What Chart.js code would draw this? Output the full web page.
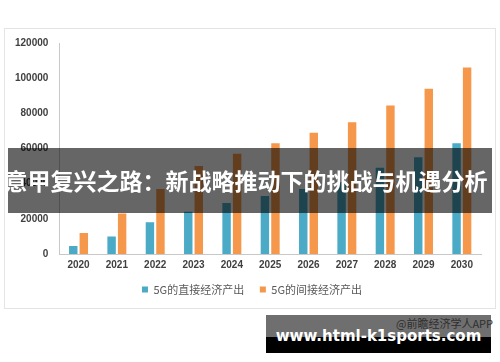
<!DOCTYPE html>
<html>
<head>
<meta charset="utf-8">
<script src="https://cdn.jsdelivr.net/npm/chart.js@4/dist/chart.umd.min.js"></script>
<style>
  body { margin: 0; width: 500px; height: 362px; background: #fff; position: relative; overflow: hidden; }
  #frame { position: absolute; left: 4px; top: 28px; width: 490px; height: 279px; border: 1px solid #e4e4e4; }
  #wrap { position: absolute; left: 0; top: 0; width: 500px; height: 310px; }
  #banner { position: absolute; left: 8px; top: 148px; width: 484px; height: 65px; background: rgba(0,0,0,0.6);
    color: #fff; font: bold 23px "Noto Sans CJK SC", sans-serif; line-height: 65px; text-align: center; white-space: nowrap; }
  #banner span { position: relative; left: -4px; }
  #mark { position: absolute; left: 266px; top: 315px; width: 225px; height: 38px; background: #6f6f6f; }
  #mark .black { position: absolute; left: 0; top: 22px; width: 225px; height: 16px; background: #000; }
  #src { position: absolute; left: 396px; top: 315px; font: 11px "Noto Sans CJK SC", sans-serif; color: #2e2e2e; white-space: nowrap; }
  #site { position: absolute; left: 266px; top: 327px; width: 225px; text-align: center; font: bold 15px "DejaVu Sans", sans-serif; color: #fff; }
</style>
</head>
<body>
<div id="frame"></div>
<div id="wrap"><canvas id="myChart"></canvas></div>
<div id="banner"><span>意甲复兴之路：新战略推动下的挑战与机遇分析</span></div>
<div id="mark"><div class="black"></div></div>
<div id="src">@前瞻经济学人APP</div>
<div id="site">www.html-k1sports.com</div>
<script>
var years = ['2020', '2021', '2022', '2023', '2024', '2025', '2026', '2027', '2028', '2029', '2030'];
var directOutput = [4500, 10000, 18000, 24000, 29000, 33000, 37000, 41000, 49000, 55000, 63000];
var indirectOutput = [12000, 23000, 37000, 50000, 57000, 63000, 69000, 75000, 84500, 94000, 106000];
var seriesNames = ['5G的直接经济产出', '5G的间接经济产出'];

var ctx = document.getElementById('myChart').getContext('2d');
var myChart = new Chart(ctx, {
  type: 'bar',
  data: {
    labels: years,
    datasets: [{
      label: seriesNames[0],
      data: directOutput,
      backgroundColor: '#4BAAC5'
    }, {
      label: seriesNames[1],
      data: indirectOutput,
      backgroundColor: '#F5984C'
    }]
  },
  options: {
    responsive: true,
    maintainAspectRatio: false,
    animation: false,
    categoryPercentage: 0.55,
    barPercentage: 0.8,
    layout: { padding: { left: 4, right: 0, top: 43, bottom: 5 } },
    plugins: {
      legend: {
        position: 'bottom',
        labels: {
          boxWidth: 6,
          boxHeight: 6,
          padding: 8,
          color: '#595959',
          font: { size: 11, family: '"Noto Sans CJK SC", sans-serif' },
          generateLabels: function (chart) {
            // a bit more room between the two legend entries
            var items = Chart.defaults.plugins.legend.labels.generateLabels(chart);
            items[0].text = items[0].text + '\u2002\u2009';
            return items;
          }
        }
      },
      tooltip: { enabled: false }
    },
    scales: {
      x: {
        grid: { display: false, drawTicks: false },
        border: { display: true, color: '#c8c8c8' },
        ticks: { color: '#404040', padding: 5, font: { size: 10, weight: 'bold', family: '"Liberation Sans", sans-serif' } }
      },
      y: {
        min: 0,
        max: 120000,
        grid: { display: false, drawTicks: false },
        border: { display: true, color: '#c8c8c8' },
        ticks: {
          stepSize: 20000,
          color: '#404040',
          padding: 11,
          font: { size: 10, weight: 'bold', family: '"Liberation Sans", sans-serif' },
          callback: function (v) { return String(v); }
        }
      },
      // empty spacer on the right so the plot ends where the original does
      yRight: {
        position: 'right',
        min: 0,
        max: 1,
        grid: { display: false, drawTicks: false },
        border: { display: false },
        ticks: { display: false },
        afterFit: function (scale) { scale.width = 19; }
      }
    }
  }
});
</script>
</body>
</html>
